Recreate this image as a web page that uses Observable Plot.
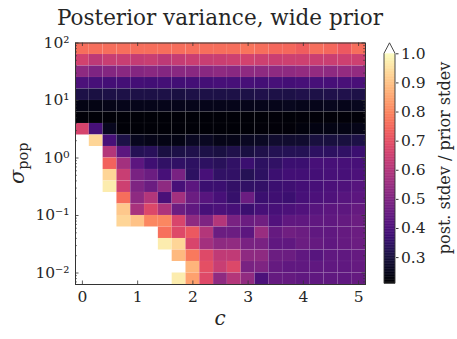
<!DOCTYPE html>
<html><head><meta charset="utf-8">
<script src="https://cdn.jsdelivr.net/npm/d3@7"></script>
<script src="https://cdn.jsdelivr.net/npm/@observablehq/plot@0.6"></script>
<style>
html,body{margin:0;padding:0;background:#fff;}
#wrap{position:relative;width:457px;height:339px;overflow:hidden;}
#wrap svg{position:absolute;top:0;}
</style></head><body><div id="wrap"></div>
<script>
// ---- data ----
const titleText = "Posterior variance, wide prior";
const xLabel = "c";
const colorLabel = "post. stdev / prior stdev";
const cValues = [0,0.25,0.5,0.75,1,1.25,1.5,1.75,2,2.25,2.5,2.75,3,3.25,3.5,3.75,4,4.25,4.5,4.75,5];
// log10(sigma_pop) of each row, top to bottom
const logSigma = [1.9,1.7,1.5,1.3,1.1,0.9,0.7,0.5,0.3,0.1,-0.1,-0.3,-0.5,-0.7,-0.9,-1.1,-1.3,-1.5,-1.7,-1.9,-2.1];
const cTicks = [0,1,2,3,4,5];
const sigmaTicks = [0.01,0.1,1,10,100];
const sigmaTickLabels = ["10\u207B\u00B2","10\u207B\u00B9","10\u2070","10\u00B9","10\u00B2"];
const colorTicks = [0.3,0.4,0.5,0.6,0.7,0.8,0.9,1.0];
const colorDomain = [0.21,1.0];
// post. stdev / prior stdev; null = above colour range (drawn white)
const ratio = [
 [0.76,0.76,0.76,0.76,0.76,0.76,0.76,0.76,0.76,0.76,0.76,0.76,0.77,0.76,0.75,0.75,0.73,0.76,0.75,0.72,0.76],
 [0.66,0.62,0.64,0.64,0.63,0.64,0.62,0.635,0.645,0.64,0.645,0.65,0.66,0.65,0.645,0.65,0.65,0.645,0.645,0.65,0.65],
 [0.53,0.50,0.51,0.52,0.51,0.52,0.51,0.52,0.52,0.52,0.53,0.52,0.53,0.53,0.53,0.53,0.54,0.54,0.53,0.54,0.54],
 [0.40,0.39,0.385,0.385,0.385,0.38,0.385,0.38,0.385,0.385,0.39,0.39,0.39,0.385,0.39,0.385,0.39,0.39,0.39,0.395,0.395],
 [0.31,0.305,0.31,0.31,0.31,0.31,0.31,0.305,0.31,0.31,0.31,0.31,0.31,0.315,0.31,0.31,0.315,0.31,0.315,0.315,0.31],
 [0.24,0.24,0.245,0.25,0.25,0.25,0.25,0.25,0.25,0.25,0.25,0.25,0.25,0.25,0.25,0.255,0.25,0.25,0.255,0.25,0.255],
 [0.225,0.22,0.22,0.22,0.22,0.22,0.22,0.22,0.22,0.22,0.22,0.22,0.22,0.22,0.225,0.22,0.225,0.225,0.225,0.225,0.225],
 [0.665,0.39,0.255,0.22,0.22,0.22,0.22,0.22,0.22,0.22,0.22,0.22,0.22,0.225,0.225,0.225,0.23,0.235,0.24,0.24,0.245],
 [null,0.93,0.39,0.31,0.255,0.245,0.24,0.24,0.26,0.26,0.245,0.245,0.26,0.265,0.28,0.28,0.28,0.30,0.30,0.30,0.31],
 [null,null,0.60,0.43,0.33,0.335,0.305,0.31,0.315,0.31,0.305,0.315,0.305,0.315,0.325,0.33,0.33,0.345,0.345,0.35,0.37],
 [null,null,0.74,0.57,0.43,0.375,0.35,0.35,0.345,0.345,0.335,0.35,0.37,0.345,0.35,0.37,0.37,0.39,0.39,0.39,0.39],
 [null,null,0.93,0.64,0.49,0.46,0.39,0.49,0.345,0.39,0.35,0.35,0.33,0.345,0.37,0.38,0.38,0.385,0.39,0.39,0.40],
 [null,null,0.97,0.65,0.50,0.46,0.53,0.39,0.43,0.37,0.37,0.355,0.35,0.355,0.37,0.375,0.385,0.39,0.40,0.405,0.42],
 [null,null,null,0.76,0.53,0.60,0.395,0.57,0.46,0.42,0.39,0.36,0.46,0.37,0.375,0.37,0.39,0.40,0.405,0.42,0.43],
 [null,null,null,0.91,0.58,0.68,0.59,0.46,0.44,0.39,0.40,0.39,0.37,0.39,0.39,0.40,0.41,0.42,0.43,0.435,0.45],
 [null,null,null,0.93,0.90,0.80,0.80,0.67,0.53,0.50,0.60,0.49,0.46,0.47,0.41,0.44,0.44,0.44,0.44,0.445,0.46],
 [null,null,null,null,null,null,0.765,0.685,0.72,0.60,0.46,0.46,0.43,0.55,0.45,0.47,0.46,0.44,0.44,0.45,0.46],
 [null,null,null,null,null,null,0.97,0.93,0.67,0.57,0.53,0.535,0.49,0.49,0.44,0.44,0.46,0.45,0.44,0.45,0.46],
 [null,null,null,null,null,null,null,0.885,0.78,0.685,0.625,0.625,0.53,0.53,0.46,0.46,0.44,0.42,0.44,0.44,0.45],
 [null,null,null,null,null,null,null,null,0.875,0.70,0.64,0.68,0.49,0.50,0.45,0.44,0.44,0.44,0.44,0.44,0.45],
 [null,null,null,null,null,null,null,0.97,0.845,0.685,0.53,0.60,0.535,0.40,0.45,0.45,0.44,0.44,0.44,0.44,0.45]
];

// ---- build cells ----
const halfC = (cValues[1]-cValues[0])/2;
const halfL = (logSigma[0]-logSigma[1])/2;
const cells = [];
ratio.forEach((row,i)=>row.forEach((v,j)=>{
  cells.push({c:cValues[j], ls:logSigma[i], v});
}));
const drawn = cells.filter(d=>d.v!=null);

// minor log ticks
const minorTicks = [];
for (let e=-3;e<=2;e++) for (let m=2;m<=9;m++){ const t=m*10**e; if (t>10**(logSigma[20]-halfL) && t<10**(logSigma[0]+halfL)) minorTicks.push(t); }

const FONT = "DejaVu Serif";
const INK = "#262626";
const FR = "#333";
const W=380,H=339,mL=75,mR=15,mT=42.5,mB=55;
const ph = H-mT-mB, pw = W-mL-mR;
const xDom = [cValues[0]-halfC, cValues[20]+halfC];
const yDom = [10**(logSigma[20]-halfL), 10**(logSigma[0]+halfL)];

const main = Plot.plot({
  width: W, height: H, marginLeft: mL, marginRight: mR, marginTop: mT, marginBottom: mB,
  x: {domain: xDom, axis: null},
  y: {type: "log", domain: yDom, axis: null},
  color: {type: "linear", scheme: "magma", domain: colorDomain},
  style: {fontFamily: FONT, color: INK, background: "transparent", overflow: "visible"},
  marks: [
    Plot.rect(drawn, {x1: d=>d.c-halfC, x2: d=>d.c+halfC, y1: d=>10**(d.ls-halfL), y2: d=>10**(d.ls+halfL),
      fill: "v", stroke: "white", strokeOpacity: 0.06, strokeWidth: 0.6}),
    Plot.tickX(cTicks, {x: d=>d, insetTop: ph-3.5, stroke: FR, strokeWidth: 0.8}),
    Plot.tickX(cTicks, {x: d=>d, insetBottom: ph-3.5, stroke: FR, strokeWidth: 0.8}),
    Plot.tickY(sigmaTicks, {y: d=>d, insetRight: pw-3.5, stroke: FR, strokeWidth: 0.8}),
    Plot.tickY(sigmaTicks, {y: d=>d, insetLeft: pw-3.5, stroke: FR, strokeWidth: 0.8}),
    Plot.tickY(minorTicks, {y: d=>d, insetRight: pw-2, stroke: FR, strokeWidth: 0.6}),
    Plot.tickY(minorTicks, {y: d=>d, insetLeft: pw-2, stroke: FR, strokeWidth: 0.6}),
    Plot.frame({stroke: FR, strokeWidth: 1}),
    Plot.axisX(cTicks, {tickSize: 0, tickPadding: 6, fontSize: 15.5, label: null, tickFormat: d=>String(d), fill: INK}),
    Plot.axisY(sigmaTicks, {tickSize: 0, tickPadding: 6, fontSize: 15.5, label: null, tickFormat: (d)=>sigmaTickLabels[sigmaTicks.indexOf(d)], fill: INK})
  ]
});
main.style.left = "0px";
document.getElementById("wrap").appendChild(main);

// ---- colorbar ----
const cbStep = 0.0025;
const cbSlices = d3.range(colorDomain[0], colorDomain[1], cbStep);
const cbW=87, cbL=14, cbR=62, cbT=53.3, cbB=339-283.3;
const cb = Plot.plot({
  width: cbW, height: H, marginLeft: cbL, marginRight: cbR, marginTop: cbT, marginBottom: cbB,
  x: {axis: null},
  y: {domain: colorDomain, axis: null},
  color: {type: "linear", scheme: "magma", domain: colorDomain},
  style: {fontFamily: FONT, color: INK, background: "transparent", overflow: "visible"},
  marks: [
    Plot.rect(cbSlices, {y1: d=>d, y2: d=>Math.min(d+cbStep*1.6, colorDomain[1]), fill: d=>d+cbStep/2}),
    Plot.axisY(colorTicks, {anchor: "right", tickSize: 2.5, tickPadding: 3, fontSize: 15.5, label: null, tickFormat: d3.format(".1f"), stroke: FR, fill: INK})
  ]
});
cb.style.left = "370px";
document.getElementById("wrap").appendChild(cb);
{
  const ys = cb.scale("y");
  const yTop = ys.apply(colorDomain[1]), yBot = ys.apply(colorDomain[0]);
  const x0 = cbL, x1 = cbW-cbR, xm = (x0+x1)/2;
  const g = d3.select(cb);
  g.append("path").attr("d", `M${x0},${yTop}L${xm},${yTop-10.5}L${x1},${yTop}Z`).attr("fill","#fff").attr("stroke","none");
  g.append("path").attr("d", `M${x0},${yBot}L${x0},${yTop}L${xm},${yTop-10.5}L${x1},${yTop}L${x1},${yBot}Z`)
    .attr("fill","none").attr("stroke",FR).attr("stroke-width",0.9);
}

// ---- text overlay (title, axis labels) ----
const ov = d3.select("#wrap").append("svg").attr("width",457).attr("height",339)
  .style("left","0px").style("pointer-events","none").attr("font-family",FONT).attr("fill",INK);
ov.append("text").attr("x", mL+pw/2).attr("y", 25).attr("text-anchor","middle").attr("font-size",21.5).text(titleText);
ov.append("text").attr("x", mL+pw/2).attr("y", 325).attr("text-anchor","middle").attr("font-size",20).attr("font-style","italic").text(xLabel);
{
  const t = ov.append("text").attr("transform", `translate(24,${mT+ph/2}) rotate(-90)`).attr("text-anchor","middle");
  t.append("tspan").attr("font-size",21).attr("font-style","italic").text("\u03C3");
  t.append("tspan").attr("font-size",14.5).attr("dy",4).text("pop");
}
ov.append("text").attr("transform", `translate(450,158) rotate(-90)`).attr("text-anchor","middle").attr("font-size",16).text(colorLabel);
</script></body></html>
